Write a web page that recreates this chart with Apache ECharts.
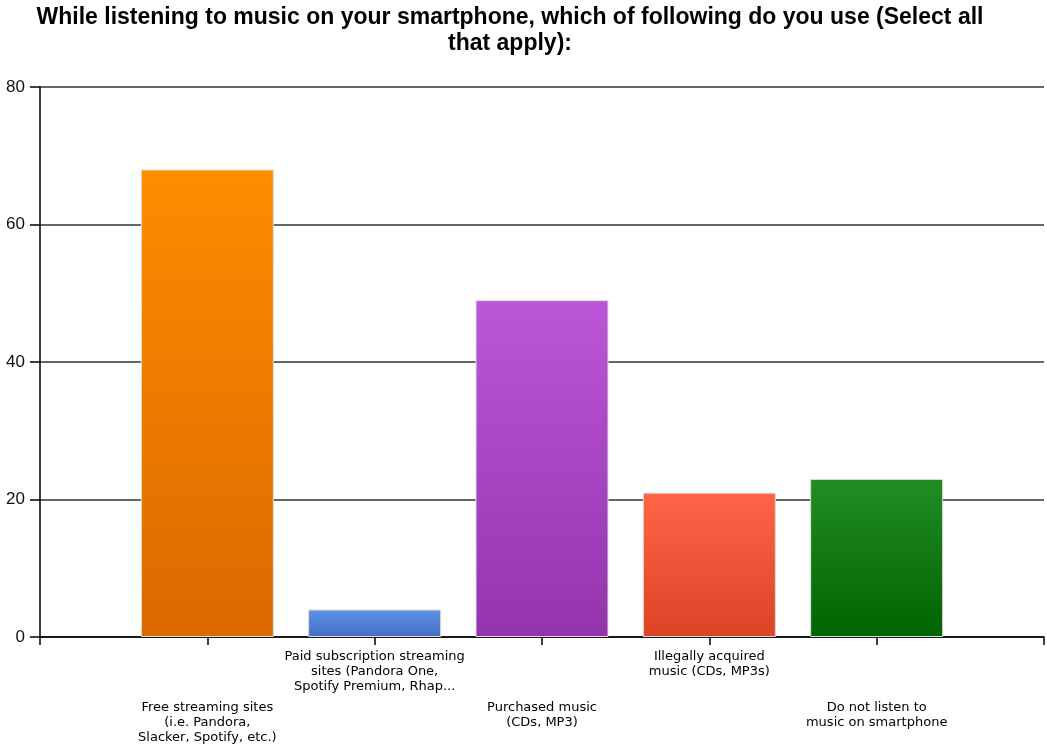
<!DOCTYPE html>
<html>
<head>
<meta charset="utf-8">
<script src="https://cdn.jsdelivr.net/npm/echarts@6/dist/echarts.min.js"></script>
<style>
html,body{margin:0;padding:0;background:#fff;}
#chart{width:1047px;height:746px;}
</style>
</head>
<body>
<div id="chart"></div>
<script>
const titleText = "While listening to music on your smartphone, which of following do you use (Select all\nthat apply):";
const categories = [
  "Free streaming sites\n(i.e. Pandora,\nSlacker, Spotify, etc.)",
  "Paid subscription streaming\nsites (Pandora One,\nSpotify Premium, Rhap...",
  "Purchased music\n(CDs, MP3)",
  "Illegally acquired\nmusic (CDs, MP3s)",
  "Do not listen to\nmusic on smartphone"
];
const values = [68, 4, 49, 21, 23];
const yTicks = [0, 20, 40, 60, 80];

const barColors = [
  ['#ff8c00', '#da6900'],
  ['#5f92e8', '#4470c6'],
  ['#bc56d8', '#9434ac'],
  ['#ff6449', '#dc4426'],
  ['#238c23', '#006400']
];

const axisCats = [''].concat(categories, ['']);
const barData = ['-'].concat(values.map((v, i) => ({
  value: v,
  itemStyle: {
    color: new echarts.graphic.LinearGradient(0, 0, 0, 1, [
      {offset: 0, color: barColors[i][0]},
      {offset: 1, color: barColors[i][1]}
    ])
  }
})), ['-']);

const chart = echarts.init(document.getElementById('chart'), null, {renderer: 'canvas'});
chart.setOption({
  animation: false,
  backgroundColor: '#fff',
  title: {
    text: titleText,
    left: 505,
    top: 0,
    textAlign: 'center',
    textStyle: {
      fontFamily: 'Liberation Sans, Arial, sans-serif',
      fontWeight: 'bold',
      fontSize: 23,
      lineHeight: 26,
      color: '#000'
    }
  },
  grid: {left: 40, right: 3, top: 87, bottom: 109, containLabel: false},
  xAxis: {
    type: 'category',
    data: axisCats,
    boundaryGap: false,
    axisLine: {lineStyle: {color: '#000', width: 1.5}},
    axisTick: {show: true, length: 8, interval: 0, lineStyle: {color: '#000', width: 1.5}},
    splitLine: {show: false},
    axisLabel: {
      interval: 0,
      margin: 12,
      fontFamily: 'DejaVu Sans, Verdana, sans-serif',
      fontSize: 13,
      lineHeight: 15,
      color: '#000',
      formatter: function (v, i) {
        if (v === '') return '';
        if (i % 2 === 1) return '{sp|}\n' + v;
        return v;
      },
      rich: {
        sp: {lineHeight: 51, height: 51}
      }
    }
  },
  yAxis: {
    type: 'value',
    min: 0,
    max: 80,
    interval: 20,
    axisLine: {show: true, lineStyle: {color: '#000', width: 1.5}},
    axisTick: {show: true, length: 10, lineStyle: {color: '#000', width: 1.5}},
    splitLine: {show: true, lineStyle: {color: '#333', width: 1.5}},
    axisLabel: {
      margin: 15,
      fontFamily: 'Liberation Sans, Arial, sans-serif',
      fontSize: 17,
      color: '#111'
    }
  },
  series: [{
    type: 'bar',
    data: barData,
    barWidth: 133,
    itemStyle: {borderColor: '#dddddd', borderWidth: 1}
  }]
});
</script>
</body>
</html>
